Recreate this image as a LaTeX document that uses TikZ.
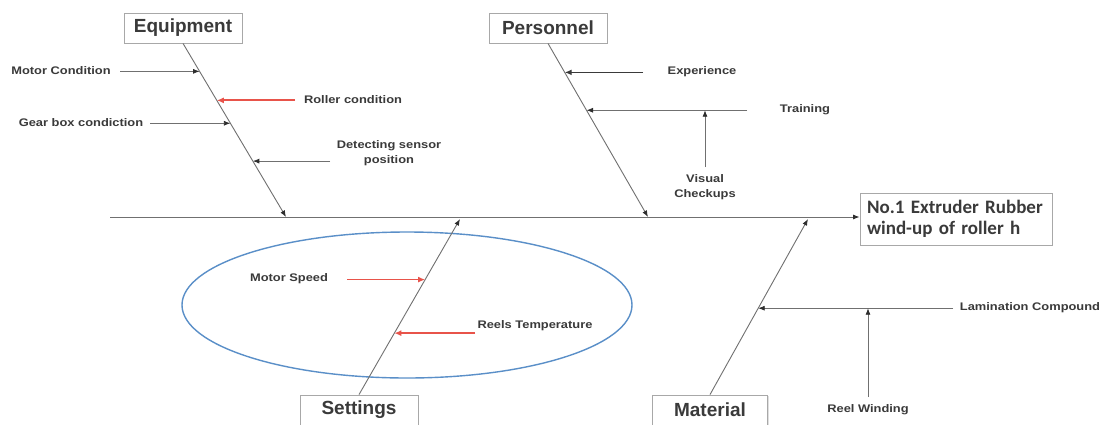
\documentclass[tikz,border=0pt]{standalone}
\usepackage{fontspec}
\usetikzlibrary{arrows.meta,calc,shadows}
\newfontfamily\lblfont{Liberation Sans}[FakeStretch=1.17]
\newfontfamily\ttlfont{Liberation Sans}
\newfontfamily\effont{Carlito}
\definecolor{bone}{HTML}{707070}
\definecolor{ink}{HTML}{3A3A3A}
\definecolor{tip}{HTML}{2E2E2E}
\definecolor{hot}{HTML}{E8534A}
\definecolor{ring}{HTML}{5A8FC8}
\definecolor{frame}{HTML}{A8A8A8}

\begin{document}
\begin{tikzpicture}[x=1pt,y=-1pt,
  cat/.style={draw=frame, line width=0.8pt, fill=white, minimum width=118pt,
    minimum height=30pt, inner sep=0pt, text=ink,
    font=\ttlfont\bfseries\fontsize{19}{22}\selectfont,
    drop shadow={shadow xshift=1.2pt,shadow yshift=-1.2pt,opacity=0.25}},
  lbl/.style={font=\lblfont\bfseries\fontsize{11}{15}\selectfont, text=ink,
    inner sep=0pt, align=center},
  bonearrow/.style={draw=bone, line width=0.9pt, -{Latex[length=6.5pt,width=5pt,color=tip]}},
  subarrow/.style={draw=bone, line width=0.8pt, -{Latex[length=6.5pt,width=5pt,color=tip]}},
  boldarrow/.style={draw=ink, line width=1.6pt, -{Latex[length=7pt,width=6pt]}},
  hotarrow/.style={draw=hot, line width=1.8pt, -{Latex[length=7pt,width=6pt]}},
]
\fill[white] (0,0) rectangle (1109,424);
\useasboundingbox (0,0) rectangle (1109,424);

% effect box and spine
\node[draw=frame, line width=0.8pt, fill=white, minimum width=192pt, minimum height=52pt,
  text width=178pt, inner xsep=7pt, inner ysep=2pt, align=left, text=ink,
  font=\effont\bfseries\fontsize{19}{21}\selectfont] (eff) at (956,219)
  {No.1 Extruder Rubber\\wind-up of roller h};
\coordinate (sp0) at (110,217);
\draw[bonearrow] (sp0) -- (sp0 -| eff.west);

% category boxes
\node[cat] (eq) at (183,28) {Equipment};
\node[cat] (pe) at (548,28) {Personnel};
\node[cat] (se) at (359,410) {Settings};
\node[cat, minimum width=115pt] (ma) at (710,410) {Material};

% where the bones meet the spine
\coordinate (eqS) at (286,217);
\coordinate (peS) at (648,217);
\coordinate (seS) at (460,219);
\coordinate (maS) at (808,219);

% highlight ring round the settings bone
\draw[ring, line width=1.4pt] (407,305) ellipse [x radius=225pt, y radius=73pt];

% bones
\draw[bonearrow] (eq.south) -- (eqS);
\draw[bonearrow] (pe.south) -- (peS);
\draw[bonearrow] (se.north) -- (seS);
\draw[bonearrow] (ma.north) -- (maS);

% points on the bones
\coordinate (eqA) at ($(eq.south)!0.161!(eqS)$);
\coordinate (eqB) at ($(eq.south)!0.328!(eqS)$);
\coordinate (eqC) at ($(eq.south)!0.460!(eqS)$);
\coordinate (eqD) at ($(eq.south)!0.678!(eqS)$);
\coordinate (peA) at ($(pe.south)!0.167!(peS)$);
\coordinate (peB) at ($(pe.south)!0.385!(peS)$);
\coordinate (seA) at ($(se.north)!0.655!(seS)$);
\coordinate (seB) at ($(se.north)!0.350!(seS)$);
\coordinate (maA) at ($(ma.north)!0.492!(maS)$);

% Equipment causes
\node[lbl] (mc) at (61,71) {Motor Condition};
\node[lbl] (rc) at (353,100) {Roller condition};
\node[lbl] (gb) at (81,123) {Gear box condiction};
\node[lbl] (ds) at (389,153) {Detecting sensor\\position};
\coordinate (mcT) at (120,71);
\coordinate (rcT) at (295,100);
\coordinate (gbT) at (150,123);
\coordinate (dsT) at (330,161);
\draw[subarrow] (mcT |- eqA) -- (eqA);
\draw[hotarrow] (rcT |- eqB) -- (eqB);
\draw[subarrow] (gbT |- eqC) -- (eqC);
\draw[subarrow] (dsT |- eqD) -- (eqD);

% Personnel causes
\node[lbl] (ex) at (702,72) {Experience};
\node[lbl] (tr) at (805,110) {Training};
\node[lbl] (vc) at (705,187) {Visual\\Checkups};
\coordinate (exT) at (643,72);
\coordinate (trT) at (747,110);
\coordinate (vcT) at (705,167);
\draw[boldarrow] (exT |- peA) -- (peA);
\draw[subarrow] (trT |- peB) -- (peB);
\draw[subarrow] (vcT) -- (vcT |- peB);

% Settings causes
\node[lbl] (ms) at (289,279) {Motor Speed};
\node[lbl] (rt) at (535,326) {Reels Temperature};
\coordinate (msT) at (347,279);
\coordinate (rtT) at (475,333);
\draw[hotarrow] (msT |- seA) -- (seA);
\draw[hotarrow] (rtT |- seB) -- (seB);

% Material causes
\node[lbl] (lc) at (1030,308) {Lamination Compound};
\node[lbl] (rw) at (868,410) {Reel Winding};
\coordinate (lcT) at (953,308);
\coordinate (rwT) at (868,397);
\draw[subarrow] (lcT |- maA) -- (maA);
\draw[subarrow] (rwT) -- (rwT |- maA);
\end{tikzpicture}
\end{document}
